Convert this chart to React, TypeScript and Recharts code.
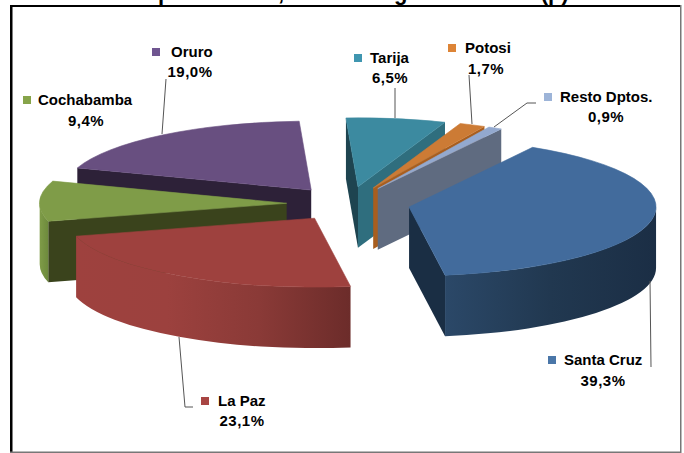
import React from 'react';
import { PieChart, Pie } from 'recharts';

const names = ['Santa Cruz', 'La Paz', 'Cochabamba', 'Oruro', 'Tarija', 'Potosi', 'Resto Dptos.'];
const shares = [39.3, 23.1, 9.4, 19.0, 6.5, 1.7, 0.9];
const data = names.map((name, i) => ({ name, value: shares[i] }));

// back to front, the slices overlap once exploded
const drawOrder = ['Oruro', 'Cochabamba', 'La Paz', 'Tarija', 'Potosi', 'Resto Dptos.', 'Santa Cruz'];

const SQUASH = 0.279;
const DEPTH = 61;
const EXPLODE = 0.25;
const RAD = Math.PI / 180;

const looks: Record<string, any> = {
  'Santa Cruz': { top: '#426b9c', cut: '#1a2e44', wall: ['#2b4868', '#213850', '#1b2e45'], key: '#4a76a8' },
  'La Paz': { top: '#9e413e', cut: '#6e2c2a', wall: ['#9e413e', '#9c413e', '#8a3a37', '#6c2c2a'], key: '#a84543' },
  Cochabamba: { top: '#7f9c48', cut: '#3a431c', wall: ['#7f9c48', '#6d8a3c'], key: '#86a44a' },
  Oruro: { top: '#684f80', cut: '#2d2138', wall: ['#684f80', '#684f80'], key: '#6f5590' },
  Tarija: { top: '#3c8aa0', cut: '#2f6e7e', side: '#1e4450', wall: ['#3c8aa0', '#3c8aa0'], key: '#3f96b0' },
  Potosi: { top: '#cc7b35', cut: '#a85e1f', wall: ['#cc7b35', '#cc7b35'], key: '#dd8436' },
  'Resto Dptos.': { top: '#93a9cf', cut: '#5f6b80', wall: ['#93a9cf', '#93a9cf'], key: '#9db4d8' },
};

// x, y of the name line; mid is the centre of the value line
const labelSpots: Record<string, any> = {
  'Santa Cruz': { key: 548, x: 564, y: 360, mid: 603, vy: 381, leader: '651,367 650,281' },
  'La Paz': { key: 201, x: 218, y: 401, mid: 242, vy: 421, leader: '193,407 185,407 179,337' },
  Cochabamba: { key: 23, x: 38, y: 100, mid: 86, vy: 121 },
  Oruro: { key: 152, x: 171, y: 52, mid: 190, vy: 72, leader: '166,79 162,134' },
  Tarija: { key: 354, x: 370, y: 58, mid: 390, vy: 78, leader: '395,88 395,118' },
  Potosi: { key: 448, x: 465, y: 48, mid: 486, vy: 69, leader: '469,75 472,124' },
  'Resto Dptos.': { key: 544, x: 560, y: 97, mid: 606, vy: 117, leader: '536,103 527,103 494,127' },
};

const sliceShape = (only: string) => (props: any) => {
  if (props.name !== only) return <g />;
  const { cx, cy, outerRadius: r, startAngle, endAngle } = props;
  const rx = r;
  const ry = r * SQUASH;
  const t0 = -startAngle;
  const t1 = -endAngle;
  const tm = (t0 + t1) / 2;
  const ox = cx + EXPLODE * rx * Math.cos(tm * RAD);
  const oy = cy + EXPLODE * ry * Math.sin(tm * RAD);
  const pt = (t: number, d = 0) => [ox + rx * Math.cos(t * RAD), oy + ry * Math.sin(t * RAD) + d];
  const look = looks[only];
  const [ax, ay] = pt(t0);
  const [bx, by] = pt(t1);
  const large = t1 - t0 > 180 ? 1 : 0;
  const top = `M${ox},${oy} L${ax},${ay} A${rx},${ry} 0 ${large} 1 ${bx},${by} Z`;
  const cutFace = (x: number, y: number) =>
    `M${ox},${oy} L${x},${y} L${x},${y + DEPTH} L${ox},${oy + DEPTH} Z`;

  const wa = Math.max(t0, 0);
  const wb = Math.min(t1, 180);
  let wall = null;
  if (wb > wa) {
    const [p, q] = [pt(wa), pt(wb)];
    const id = `wall-${names.indexOf(only)}`;
    wall = (
      <>
        <defs>
          <linearGradient id={id} gradientUnits="userSpaceOnUse" x1={q[0]} y1={0} x2={p[0]} y2={0}>
            {look.wall.map((c: string, i: number) => (
              <stop key={i} offset={`${(i / (look.wall.length - 1)) * 100}%`} stopColor={c} />
            ))}
          </linearGradient>
        </defs>
        <path
          d={`M${p[0]},${p[1]} A${rx},${ry} 0 0 1 ${q[0]},${q[1]} L${q[0]},${q[1] + DEPTH} A${rx},${ry} 0 0 0 ${p[0]},${p[1] + DEPTH} Z`}
          fill={`url(#${id})`}
        />
      </>
    );
  }

  return (
    <g>
      {Math.cos(t0 * RAD) < 0 && <path d={cutFace(ax, ay)} fill={look.side || look.cut} />}
      {Math.cos(t1 * RAD) > 0 && <path d={cutFace(bx, by)} fill={look.cut} />}
      {wall}
      <path d={top} fill={look.top} stroke={look.top} strokeWidth={0.6} />
    </g>
  );
};

const renderLabel = (props: any) => {
  const spot = labelSpots[props.name];
  const text = {
    fontFamily: '"Liberation Sans", Arial, sans-serif',
    fontSize: 15,
    fontWeight: 700,
    fill: '#000',
  };
  return (
    <g key={props.name}>
      {spot.leader && <polyline points={spot.leader} fill="none" stroke="#555" strokeWidth={1} />}
      <rect x={spot.key} y={spot.y - 4} width={8} height={8} fill={looks[props.name].key} />
      <text x={spot.x} y={spot.y + 5} style={text}>
        {props.name}
      </text>
      <text x={spot.mid} y={spot.vy + 5} textAnchor="middle" style={{ ...text, letterSpacing: 0.5 }}>
        {props.value.toFixed(1).replace('.', ',')}%
      </text>
    </g>
  );
};

export default function App() {
  return (
    <div style={{ position: 'absolute', left: 0, top: 0, width: 684, height: 453, background: '#fff' }}>
      <PieChart width={684} height={453} margin={{ top: 0, right: 0, bottom: 0, left: 0 }}>
        <text
          x={130}
          y={0}
          fill="#000"
          style={{ fontFamily: '"Liberation Sans", Arial, sans-serif', fontSize: 22, fontWeight: 700, fill: '#000' }}
        >
          Departamento, Montos ingresado 2015 (p)
        </text>
        <rect x={10} y={5} width={671} height={2} fill="#000" />
        <rect x={10} y={5} width={2.5} height={448} fill="#000" />
        <rect x={680} y={5} width={1.5} height={448} fill="#777" />
        <rect x={10} y={451.5} width={671} height={1.5} fill="#777" />
        {drawOrder.map((name) => (
          <Pie
            key={name}
            data={data}
            dataKey="value"
            nameKey="name"
            cx={348.4}
            cy={203.8}
            outerRadius={247}
            startAngle={60}
            endAngle={-300}
            stroke="none"
            labelLine={false}
            shape={sliceShape(name)}
            isAnimationActive={false}
          />
        ))}
        <Pie
          data={data}
          dataKey="value"
          nameKey="name"
          cx={348.4}
          cy={203.8}
          outerRadius={247}
          startAngle={60}
          endAngle={-300}
          stroke="none"
          labelLine={false}
          label={renderLabel}
          shape={() => <g />}
          isAnimationActive={false}
        />
      </PieChart>
    </div>
  );
}
